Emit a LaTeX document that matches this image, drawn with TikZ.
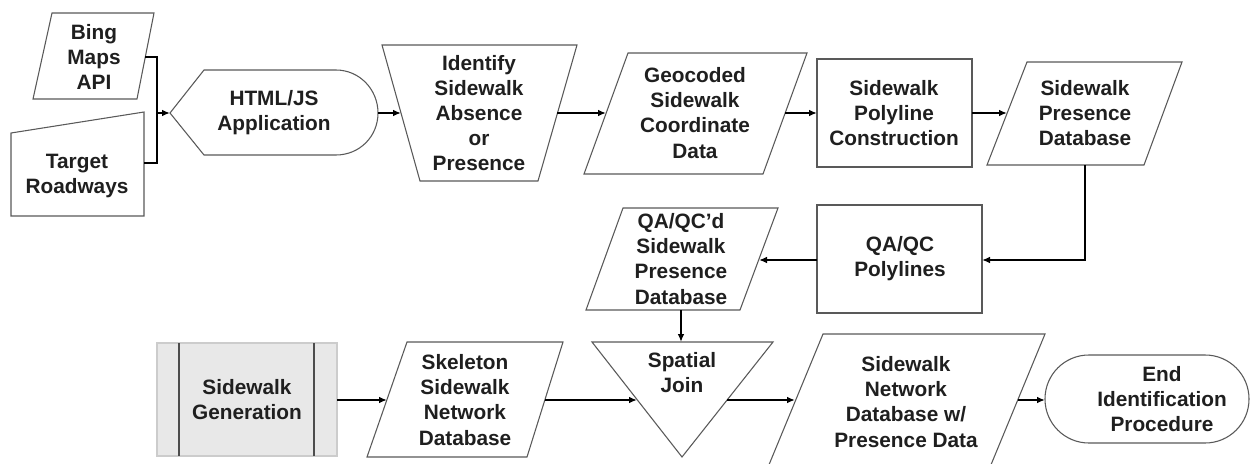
\documentclass[tikz,border=0pt]{standalone}
\usepackage{fontspec}
\setmainfont{Liberation Sans}
\usetikzlibrary{arrows.meta}
\begin{document}
\begin{tikzpicture}[x=0.75pt,y=-0.75pt,
  shp/.style={draw=black!65, line width=0.8pt, fill=white, line join=miter},
  lbl/.style={align=center, font=\fontsize{15.6}{18.8}\selectfont\bfseries, text=black!88, inner sep=0pt},
  conn/.style={draw=black, line width=1.3pt},
  arr/.style={conn, -{Latex[length=6pt,width=5pt]}},
]
\useasboundingbox (0,0) rectangle (1250,464);

% Bing Maps API
\draw[shp] (52,13) -- (154,13) -- (137,99) -- (33,99) -- cycle;
\node[lbl] (bing) at (94,57) {Bing\\Maps\\API};
\coordinate (bingE) at (145,57);

% Target Roadways
\draw[shp] (11,133) -- (144,112) -- (144,216) -- (11,216) -- cycle;
\node[lbl] (target) at (77,176) {Target\\Roadways};
\coordinate (targetE) at (144,163);
\coordinate (join1) at (157,113);

% HTML/JS Application
\draw[shp] (170,113) -- (204,70) -- (336,70) .. controls (359.5,70) and (378,89.5) .. (378,113)
  .. controls (378,136.5) and (359.5,155) .. (336,155) -- (204,155) -- cycle;
\node[lbl] (html) at (274,113) {HTML/JS\\Application};
\coordinate (htmlW) at (170,113);
\coordinate (htmlE) at (378,113);

% Identify
\draw[shp] (382,45) -- (577,45) -- (538,181) -- (420,181) -- cycle;
\node[lbl] (ident) at (479,113) {Identify\\Sidewalk\\Absence\\or\\Presence};
\coordinate (identW) at (401,113);
\coordinate (identE) at (557,113);

% Geocoded
\draw[shp] (628,53) -- (807,53) -- (763,174) -- (584,174) -- cycle;
\node[lbl] (geo) at (695,113) {Geocoded\\Sidewalk\\Coordinate\\Data};
\coordinate (geoW) at (606,113);
\coordinate (geoE) at (785,113);

% Sidewalk Polyline Construction
\draw[shp] (817,59) rectangle (972,167);
\node[lbl] (poly) at (894,113) {Sidewalk\\Polyline\\Construction};
\coordinate (polyW) at (817,113);
\coordinate (polyE) at (972,113);

% Sidewalk Presence Database
\draw[shp] (1027,62) -- (1182,62) -- (1144,165) -- (987,165) -- cycle;
\node[lbl] (pres) at (1085,113) {Sidewalk\\Presence\\Database};
\coordinate (presW) at (1007,113);
\coordinate (presS) at (1085,165);

% QA/QC Polylines
\draw[shp] (817,205) rectangle (982,313);
\node[lbl] (qaqc) at (900,259) {QA/QC\\Polylines};
\coordinate (qaqcE) at (982,260);
\coordinate (qaqcW) at (817,260);

% QA/QC'd Sidewalk Presence Database
\draw[shp] (623,208) -- (778,208) -- (740,310) -- (586,310) -- cycle;
\node[lbl] (qadb) at (681,259) {QA/QC’d\\Sidewalk\\Presence\\Database};
\coordinate (qadbE) at (759,260);
\coordinate (qadbS) at (681,310);

% Spatial Join
\draw[shp] (592,342) -- (773,342) -- (682,457) -- cycle;
\node[lbl] (join) at (682,373) {Spatial\\Join};
\coordinate (joinN) at (681,342);
\coordinate (joinW) at (637,400);
\coordinate (joinE) at (727,400);

% Sidewalk Generation
\draw[draw=black!20, fill=black!9, line width=0.8pt] (157,343) rectangle (337,456);
\draw[draw=black!70, line width=0.9pt] (179,343) -- (179,456) (314,343) -- (314,456);
\node[lbl] (gen) at (247,400) {Sidewalk\\Generation};
\coordinate (genE) at (337,400);

% Skeleton Sidewalk Network Database
\draw[shp] (407,342) -- (563,342) -- (527,457) -- (367,457) -- cycle;
\node[lbl] (skel) at (465,400) {Skeleton\\Sidewalk\\Network\\Database};
\coordinate (skelW) at (387,400);
\coordinate (skelE) at (545,400);

% Sidewalk Network Database w/ Presence Data
\draw[shp] (823,334) -- (1045,334) -- (988,472) -- (766,472) -- cycle;
\node[lbl] (net) at (906,402) {Sidewalk\\Network\\Database w/\\Presence Data};
\coordinate (netW) at (795,400);
\coordinate (netE) at (1018,400);

% End Identification Procedure
\draw[shp, rounded corners=32.9pt] (1045,355) rectangle (1249,443);
\node[lbl] (endp) at (1162,399) {End\\Identification\\Procedure};
\coordinate (endW) at (1045,400);

% connectors
\draw[conn] (bingE) -| (join1);
\draw[conn] (targetE) -| (join1);
\draw[arr] (join1) -- (htmlW);
\draw[arr] (htmlE) -- (identW);
\draw[arr] (identE) -- (geoW);
\draw[arr] (geoE) -- (polyW);
\draw[arr] (polyE) -- (presW);
\draw[arr] (presS) |- (qaqcE);
\draw[arr] (qaqcW) -- (qadbE);
\draw[arr] (qadbS) -- (joinN);
\draw[arr] (genE) -- (skelW);
\draw[arr] (skelE) -- (joinW);
\draw[arr] (joinE) -- (netW);
\draw[arr] (netE) -- (endW);
\end{tikzpicture}
\end{document}
